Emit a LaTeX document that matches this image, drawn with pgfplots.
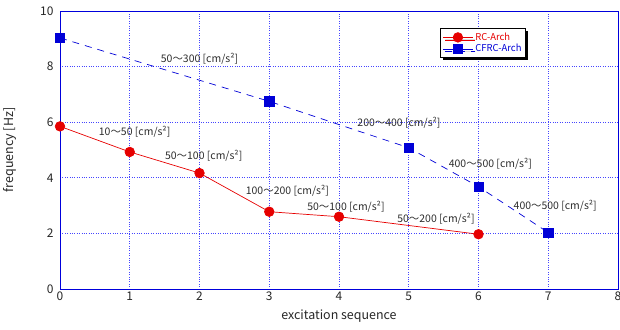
\documentclass[border=0pt]{standalone}
\usepackage{fontspec}
\setmainfont{Noto Sans CJK JP}
\usepackage{pgfplots}
\pgfplotsset{compat=1.18}
\usetikzlibrary{shadows}
\definecolor{axblue}{RGB}{0,0,220}
\definecolor{gridblue}{RGB}{70,70,255}
\definecolor{rcred}{RGB}{230,0,0}
\definecolor{cfblue}{RGB}{0,0,215}
\definecolor{anno}{RGB}{45,45,45}
\begin{document}
\begin{tikzpicture}
\begin{axis}[
 width=558bp, height=278bp, scale only axis,
 xmin=0, xmax=8, ymin=0, ymax=10,
 xtick={0,1,...,8}, ytick={0,2,...,10},
 grid=major,
 major grid style={gridblue, dotted, line width=0.9pt},
 axis line style={axblue, line width=0.9pt},
 tick style={draw=none},
 /pgf/number format/assume math mode=true,
 tick label style={font=\fontsize{12}{12}\selectfont, text=black!85},
 xticklabel style={yshift=1bp},
 yticklabel style={xshift=-3bp},
 xlabel={excitation sequence}, ylabel={frequency [Hz]},
 label style={font=\fontsize{12.5}{13}\selectfont, text=black!85},
 xlabel style={yshift=-3bp},
 ylabel style={yshift=17bp},
 legend style={at={(axis cs:5.45,9.39)}, anchor=north west,
   draw=black, line width=0.9pt, fill=white,
   drop shadow={shadow xshift=2.5bp, shadow yshift=-2.5bp, fill=black, opacity=1},
   font=\fontsize{9.5}{9.5}\selectfont, row sep=-1.5bp,
   inner xsep=2bp, inner ysep=2.5bp},
 legend image code/.code={\draw[mark repeat=2, mark phase=2, #1, solid] plot coordinates {(0bp,0bp) (15bp,0bp) (30bp,0bp)};},
 legend cell align=left,
 clip=false,
]
\coordinate (bl) at (rel axis cs:0,0);
\coordinate (tr) at (rel axis cs:1,1);
\addplot[rcred, line width=0.7pt, mark=*, mark size=4.8bp, mark options={solid, fill=rcred, draw=rcred}]
 coordinates {(0,5.85) (1,4.93) (2,4.17) (3,2.78) (4,2.60) (6,1.97)};
\addlegendentry{\textcolor{rcred}{RC-Arch}}
\addplot[cfblue, line width=0.7pt, dash pattern=on 7bp off 6bp, mark=square*, mark size=4.6bp, mark options={solid, fill=cfblue, draw=cfblue}]
 coordinates {(0,9.03) (3,6.75) (5,5.08) (6,3.68) (7,2.03)};
\addlegendentry{\textcolor{cfblue}{CFRC-Arch}}
\begin{scope}[every node/.style={font=\fontsize{10.5}{11}\selectfont, text=anno, inner sep=0pt}]
\node at (axis cs:2.00,8.28) {50～300 [cm/s²]};
\node at (axis cs:1.07,5.66) {10～50 [cm/s²]};
\node at (axis cs:2.06,4.80) {50～100 [cm/s²]};
\node at (axis cs:3.26,3.55) {100～200 [cm/s²]};
\node at (axis cs:4.10,2.94) {50～100 [cm/s²]};
\node at (axis cs:5.39,2.54) {50～200 [cm/s²]};
\node at (axis cs:4.86,5.99) {200～400 [cm/s²]};
\node at (axis cs:6.17,4.52) {400～500 [cm/s²]};
\node at (axis cs:7.10,3.00) {400～500 [cm/s²]};
\end{scope}
\end{axis}
\pgfresetboundingbox
\path[use as bounding box] ([xshift=-60bp,yshift=-40bp]bl) rectangle ([xshift=2bp,yshift=11bp]tr);
\end{tikzpicture}
\end{document}
